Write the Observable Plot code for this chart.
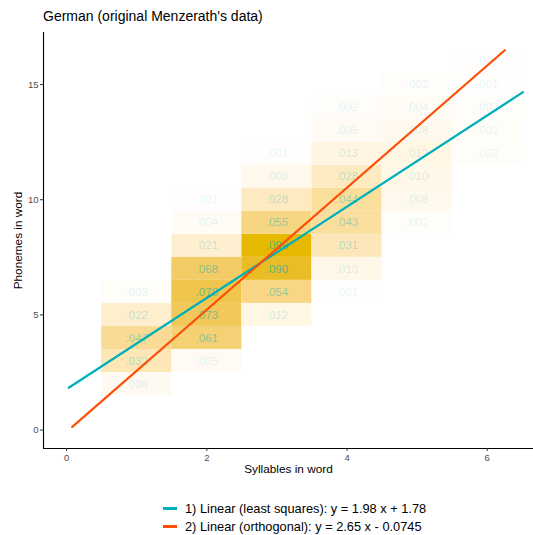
<!DOCTYPE html>
<html>
<head>
<meta charset="utf-8">
<script src="https://cdn.jsdelivr.net/npm/d3@7"></script>
<script src="https://cdn.jsdelivr.net/npm/@observablehq/plot@0.6"></script>
<style>
  html, body { margin: 0; padding: 0; background: #fff; }
  body { width: 533px; height: 535px; font-family: "Liberation Sans", Arial, Helvetica, sans-serif; overflow: hidden; }
  #title { height: 28px; box-sizing: border-box; padding-left: 43px; padding-top: 8px; font-size: 14px; color: #000; line-height: 17px; }
  #chart svg { display: block; }
  #legend { margin-left: 163px; margin-top: 19px; font-size: 12.8px; color: #000; }
  .item { display: flex; align-items: center; height: 18.5px; line-height: 15px; }
  .sw { width: 14px; height: 3px; margin-right: 8px; }
</style>
</head>
<body>
<div id="title">German (original Menzerath's data)</div>
<div id="chart"></div>
<div id="legend"></div>
<script>
// Syllables (x), phonemes (y), relative frequency
const syllables = [1,1,1,1,1,
                   2,2,2,2,2,2,2,2,
                   3,3,3,3,3,3,3,3,
                   4,4,4,4,4,4,4,4,4,
                   5,5,5,5,5,5,5,
                   6,6,6,6,6];
const phonemes  = [2,3,4,5,6,
                   3,4,5,6,7,8,9,10,
                   5,6,7,8,9,10,11,12,
                   6,7,8,9,10,11,12,13,14,
                   9,10,11,12,13,14,15,
                   12,13,14,15,16];
const freqs     = [.006,.032,.047,.022,.003,
                   .005,.061,.073,.078,.068,.021,.004,.001,
                   .012,.054,.090,.096,.055,.028,.008,.001,
                   .001,.010,.031,.043,.044,.028,.013,.005,.002,
                   .002,.008,.010,.012,.008,.004,.002,
                   .002,.003,.002,.001,.001];

const xTicks = [0, 2, 4, 6];
const yTicks = [0, 5, 10, 15];
const xDomain = [-0.33, 6.66];
const yDomain = [-0.80, 17.26];

// Fits
const modelNames = ["1) Linear (least squares): y = 1.98 x + 1.78",
                    "2) Linear (orthogonal): y = 2.65 x - 0.0745"];
const slopes = [1.98, 2.65];
const intercepts = [1.78, -0.0745];
const xStart = [0.03, 0.08];
const xEnd = [6.51, 6.25];
const modelColors = ["#00AFBB", "#FC4E07"];

const cells = syllables.map((s, i) => ({s, p: phonemes[i], f: freqs[i]}));
const fmt = v => d3.format(".3f")(v).replace(/^0/, "");
const maxF = d3.max(freqs);
const fillScale = d3.scaleLinear().domain([0, maxF]).range(["#ffffff", "#E7B800"]).interpolate(d3.interpolateLab);

const lines = [];
modelNames.forEach((m, k) => {
  [xStart[k], xEnd[k]].forEach(x => lines.push({model: m, x, y: slopes[k] * x + intercepts[k]}));
});

const plot = Plot.plot({
  width: 533,
  height: 452,
  marginTop: 4,
  marginBottom: 32,
  marginLeft: 43,
  marginRight: 0,
  style: {fontFamily: "'Liberation Sans', Arial, Helvetica, sans-serif", background: "#fff"},
  x: {domain: xDomain},
  y: {domain: yDomain},
  marks: [
    Plot.rect(cells, {
      x1: d => d.s - 0.5, x2: d => d.s + 0.5,
      y1: d => d.p - 0.5, y2: d => d.p + 0.5,
      fill: d => fillScale(d.f), inset: 0
    }),
    Plot.text(cells, {
      x: "s", y: "p", text: d => fmt(d.f),
      fill: "#00AFBB", fillOpacity: d => 0.12 + d.f * 5.5,
      fontSize: 11.5
    }),
    Plot.line(lines.filter(d => d.model === modelNames[0]), {x: "x", y: "y", stroke: modelColors[0], strokeWidth: 2.2}),
    Plot.line(lines.filter(d => d.model === modelNames[1]), {x: "x", y: "y", stroke: modelColors[1], strokeWidth: 2.2}),
    Plot.ruleX([xDomain[0]], {stroke: "#000", strokeWidth: 1.1}),
    Plot.ruleY([yDomain[0]], {stroke: "#000", strokeWidth: 1.1}),
    Plot.axisX({ticks: xTicks, tickFormat: d3.format("d"), tickSize: 3, tickPadding: 3, fontSize: 9.5, color: "#4d4d4d", stroke: "#333", label: null}),
    Plot.axisY({ticks: yTicks, tickFormat: d3.format("d"), tickSize: 3, tickPadding: 2, fontSize: 9.5, color: "#4d4d4d", stroke: "#333", label: null}),
    Plot.text(["Syllables in word"], {frameAnchor: "bottom", text: d => d, dy: 24, fontSize: 11.8, fill: "#000"}),
    Plot.text(["Phonemes in word"], {frameAnchor: "left", text: d => d, textAnchor: "middle", dx: -25, rotate: -90, fontSize: 11.8, fill: "#000"})
  ]
});
document.getElementById("chart").appendChild(plot);

const legend = document.getElementById("legend");
modelNames.forEach((m, k) => {
  const item = document.createElement("div");
  item.className = "item";
  const sw = document.createElement("span");
  sw.className = "sw";
  sw.style.background = modelColors[k];
  const t = document.createElement("span");
  t.textContent = m;
  item.appendChild(sw);
  item.appendChild(t);
  legend.appendChild(item);
});
</script>
</body>
</html>
